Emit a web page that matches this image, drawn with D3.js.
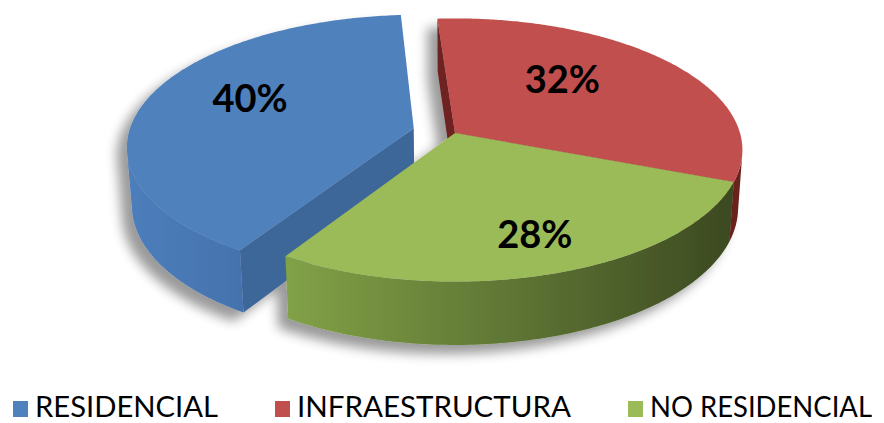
<!DOCTYPE html>
<html>
<head>
<meta charset="utf-8">
<script src="https://cdn.jsdelivr.net/npm/d3@7"></script>
<style>
  html, body { margin: 0; padding: 0; background: #ffffff; }
  svg { display: block; }
</style>
</head>
<body>
<script>
// Data
const categories = ["RESIDENCIAL", "INFRAESTRUCTURA", "NO RESIDENCIAL"];
const values = [40, 32, 28];
const valueLabels = ["40%", "32%", "28%"];

// Palette: top face, outer wall (light / dark), radial wall
const topColors = ["#4F81BD", "#C0504D", "#9BBB59"];
const wallLight = ["#4D7EBC", "#8E3431", "#82A247"];
const wallDark = ["#3F6BA3", "#6A201E", "#3A4720"];
const sideColors = ["#3D6699", "#6E2320", "#5E7A30"];

const W = 884, H = 423;
const svg = d3.select("body").append("svg").attr("width", W).attr("height", H);

// Camera / solid parameters for the tilted 3D pie
const cam = { cx: 455, cy: 133, S: 285, phi: 27 * Math.PI / 180, D: 6.9 };
const THICK = 0.23;
const explodeBy = [0.15, 0, 0];   // only the first slice is pulled out
// Label placement on each top face: radius fraction and angular nudge (deg)
const labelR = [0.65, 0.6, 0.745];
const labelTurn = [8.6, -12, -1.6];
const sinP = Math.sin(cam.phi), cosP = Math.cos(cam.phi);

// X: right, Y: up (top face at 0), V: away from viewer
function proj(X, Y, V) {
  const s = Y * sinP - V * cosP;
  const up = Y * cosP + V * sinP;
  const k = cam.D / (cam.D - s);
  return [cam.cx + cam.S * X * k, cam.cy - cam.S * up * k];
}

const first = 212 * Math.PI / 180;
const pie = d3.pie().sort(null).value(d => d)
  .startAngle(first).endAngle(first + 2 * Math.PI);
const arcs = pie(values).map((a, i) => {
  const m = (a.startAngle + a.endAngle) / 2;
  const e = explodeBy[i];
  return { ...a, i, mid: m, ox: e * Math.sin(m), ov: e * Math.cos(m) };
});

const defs = svg.append("defs");
const shadow = defs.append("filter").attr("id", "shadow")
  .attr("x", "-20%").attr("y", "-20%").attr("width", "140%").attr("height", "150%");
shadow.append("feGaussianBlur").attr("in", "SourceAlpha").attr("stdDeviation", 6).attr("result", "b");
shadow.append("feOffset").attr("in", "b").attr("dx", -10).attr("dy", 9).attr("result", "o");
shadow.append("feComponentTransfer").attr("in", "o").attr("result", "sh")
  .append("feFuncA").attr("type", "linear").attr("slope", 0.4);
const merge = shadow.append("feMerge");
merge.append("feMergeNode").attr("in", "sh");
merge.append("feMergeNode").attr("in", "SourceGraphic");

arcs.forEach(a => {
  const g = defs.append("linearGradient").attr("id", "wall" + a.i)
    .attr("gradientUnits", "userSpaceOnUse")
    .attr("x1", 130).attr("x2", 745).attr("y1", 0).attr("y2", 0);
  g.append("stop").attr("offset", a.i === 2 ? 0.25 : 0).attr("stop-color", wallLight[a.i]);
  g.append("stop").attr("offset", a.i === 0 ? 0.3 : 1).attr("stop-color", wallDark[a.i]);
});

function rimPts(a, A0, A1, Y, n) {
  const pts = [];
  for (let j = 0; j <= n; j++) {
    const t = A0 + (A1 - A0) * j / n;
    pts.push(proj(a.ox + Math.sin(t), Y, a.ov + Math.cos(t)));
  }
  return pts;
}

function polyPath(pts) {
  const p = d3.path();
  pts.forEach((q, j) => j ? p.lineTo(q[0], q[1]) : p.moveTo(q[0], q[1]));
  p.closePath();
  return p.toString();
}

const chart = svg.append("g").attr("filter", "url(#shadow)");

// Paint farther slices first (depth of each slice's centroid)
const depth = a => a.ov + 0.5 * Math.cos(a.mid);
const order = arcs.slice().sort((p, q) => depth(q) - depth(p));
const DC = cam.D * cosP;

order.forEach(a => {
  const g = chart.append("g");
  const c0 = proj(a.ox, 0, a.ov), c1 = proj(a.ox, -THICK, a.ov);

  // Radial walls that face the viewer
  const startVis = a.ox * Math.cos(a.startAngle) - Math.sin(a.startAngle) * (DC + a.ov);
  const endVis = -a.ox * Math.cos(a.endAngle) + Math.sin(a.endAngle) * (DC + a.ov);
  [[a.startAngle, startVis], [a.endAngle, endVis]].forEach(([ang, vis]) => {
    if (vis <= 0) return;
    const r0 = proj(a.ox + Math.sin(ang), 0, a.ov + Math.cos(ang));
    const r1 = proj(a.ox + Math.sin(ang), -THICK, a.ov + Math.cos(ang));
    g.append("path").attr("d", polyPath([c0, r0, r1, c1])).attr("fill", sideColors[a.i]);
  });

  // Outer wall: only the parts facing the viewer
  const N = 240, runs = [];
  let cur = null;
  for (let j = 0; j <= N; j++) {
    const t = a.startAngle + (a.endAngle - a.startAngle) * j / N;
    const f = -a.ox * Math.sin(t) - a.ov * Math.cos(t) - 1 - DC * Math.cos(t);
    if (f > 0) { if (!cur) { cur = [t, t]; runs.push(cur); } cur[1] = t; }
    else cur = null;
  }
  runs.forEach(([b0, b1]) => {
    const top = rimPts(a, b0, b1, 0, 120);
    const bot = rimPts(a, b1, b0, -THICK, 120);
    g.append("path").attr("d", polyPath(top.concat(bot))).attr("fill", `url(#wall${a.i})`);
  });

  // Top face
  const topPts = [c0].concat(rimPts(a, a.startAngle, a.endAngle, 0, 200));
  g.append("path").attr("d", polyPath(topPts)).attr("fill", topColors[a.i]);
});

// Value labels on the top faces
arcs.forEach(a => {
  const ang = a.mid + labelTurn[a.i] * Math.PI / 180, r = labelR[a.i];
  const p = proj(a.ox + r * Math.sin(ang), 0, a.ov + r * Math.cos(ang));
  svg.append("text")
    .attr("x", p[0]).attr("y", p[1])
    .attr("text-anchor", "middle").attr("dominant-baseline", "central")
    .attr("font-family", "Lato, 'Open Sans', sans-serif")
    .attr("font-weight", 700).attr("font-size", 38).attr("fill", "#000")
    .text(valueLabels[a.i]);
});

// Legend
const legendX = [13, 275, 628];
const legendW = [183, 274, 222];
const legend = svg.append("g");
categories.forEach((c, i) => {
  legend.append("rect").attr("x", legendX[i]).attr("y", 401).attr("width", 15).attr("height", 16)
    .attr("fill", topColors[i]);
  legend.append("text").attr("x", legendX[i] + 22).attr("y", 417)
    .attr("font-family", "Lato, 'Open Sans', sans-serif")
    .attr("font-size", 28).attr("fill", "#000")
    .attr("textLength", legendW[i]).attr("lengthAdjust", "spacingAndGlyphs")
    .text(c);
});
</script>
</body>
</html>
